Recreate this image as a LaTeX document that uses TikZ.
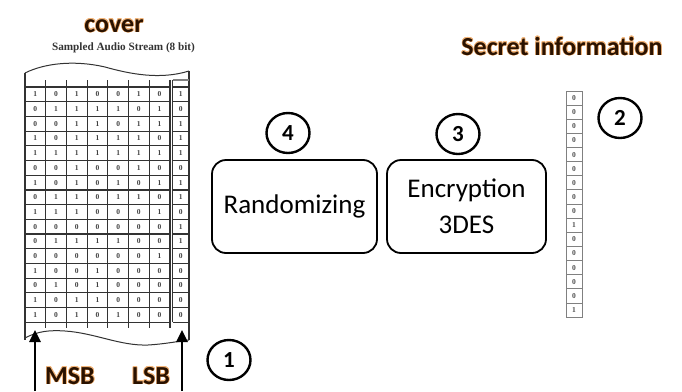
\documentclass[tikz,border=0pt]{standalone}
\usepackage{fontspec}
\usepackage{contour}
\setmainfont{Carlito}
\newfontfamily\bitserif{Liberation Serif}
\usetikzlibrary{shapes.geometric,arrows.meta}
\definecolor{titlebrown}{HTML}{2A1200}
\definecolor{glow}{HTML}{F2B57A}
\contourlength{0.6pt}
\contournumber{16}
\newcommand\titlefont{\fontsize{26}{28}\selectfont\bfseries}
\newcommand\boxfont{\fontsize{27}{36}\selectfont}
\newcommand\markfont{\fontsize{23}{26}\selectfont\bfseries}
\newcommand\bitfont{\bitserif\fontsize{7.5}{8}\selectfont\bfseries}
\newcommand\streamfont{\bitserif\fontsize{11.2}{12}\selectfont\bfseries}

\begin{document}
\begin{tikzpicture}[x=1pt,y=-1pt,
  gridline/.style={line width=1.2pt,draw=black!80},
  bitcell/.style={font=\bitfont,text=black!75,inner sep=0pt},
  secretcell/.style={draw=black!50,line width=0.9pt,minimum width=16pt,
    minimum height=14.13pt,inner sep=0pt,font=\bitfont,text=black!70},
  stagebox/.style={draw,line width=1.8pt,rounded corners=14pt,
    minimum height=93pt,align=center,font=\boxfont,inner sep=2pt},
  stepmark/.style={draw,ellipse,line width=2.4pt,minimum width=43pt,
    minimum height=40pt,inner sep=0pt,font=\markfont},
  bigarrow/.style={line width=2.6pt,-{Triangle[length=12pt,width=11pt]}},
  title/.style={font=\titlefont,text=titlebrown,inner sep=0pt,anchor=base}]

\useasboundingbox (0,0) rectangle (682,391);

% ---- titles ----
\node[title] (cover) at (114,32) {\contour{glow}{cover}};
\node[title] (secret) at (562,55) {\contour{glow}{Secret information}};
\node[font=\streamfont,text=black!80,inner sep=0pt] (stream) at (123.5,48)
  {Sampled Audio Stream (8 bit)};

% ---- audio sample strip: torn top and bottom edges ----
\draw[gridline,line width=1pt] (25,73) .. controls (45,63) and (75,60) .. (105,67)
  .. controls (130,74) and (160,80) .. (189,71);
\draw[gridline,line width=1pt] (25,338) .. controls (38,331) and (50,330) .. (65,331)
  .. controls (95,333) and (120,346) .. (148,345)
  .. controls (165,344) and (180,341) .. (189,340);
\draw[gridline] (25,73) -- (25,340);
\draw[gridline] (189,71) -- (189,340);

% row separators of the seven upper bits
\foreach \r in {0,...,16}
  \draw[gridline] (25,{87+14.7*\r}) -- (170,{87+14.7*\r});
% column separators
\foreach \c in {1,...,7}
  \draw[gridline] ({25+20.7*\c},80) -- ({25+20.7*\c},328);
% boxed least significant bit column
\draw[gridline] (172.5,80) -- (172.5,322.2);
\draw[gridline,draw=black!50] (172.5,80) -- (189,80);
\foreach \r in {0,...,16}
  \draw[gridline] (172.5,{87+14.7*\r}) -- (189,{87+14.7*\r});

% sample bits, MSB first
\foreach \bits [count=\r] in {
  {1,0,1,0,0,1,0,1},{0,1,1,1,1,0,1,0},{0,0,1,1,0,1,1,1},{1,0,1,1,1,1,0,1},
  {1,1,1,1,1,1,1,1},{0,0,1,0,0,1,0,0},{1,0,1,0,1,0,1,1},{0,1,1,0,1,1,0,1},
  {1,1,1,0,0,0,1,0},{0,0,0,0,0,0,0,1},{0,1,1,1,1,0,0,1},{0,0,0,0,0,0,1,0},
  {1,0,0,1,0,0,0,0},{0,1,0,1,0,0,0,0},{1,0,1,1,0,0,0,0},{1,0,1,0,1,0,0,0}}
  \foreach \b [count=\c] in \bits
    \node[bitcell] (bit-\r-\c) at ({\c<8 ? 25+20.7*(\c-0.5) : 180.8},{87+14.7*(\r-0.5)}) {\b};

% ---- MSB / LSB pointers ----
\coordinate (msb-foot) at (35,391);
\coordinate (msb-tip) at (35,330);
\coordinate (lsb-foot) at (182,391);
\coordinate (lsb-tip) at (182,330);
\draw[bigarrow] (msb-foot) -- (msb-tip);
\draw[bigarrow] (lsb-foot) -- (lsb-tip);
\node[title] (msb) at (70,384) {\contour{glow}{MSB}};
\node[title] (lsb) at (151,384) {\contour{glow}{LSB}};

% ---- processing stages ----
\node[stagebox,minimum width=165pt] (randomizing) at (294.5,206.5) {Randomizing};
\node[stagebox,minimum width=159pt] (encryption) at (466.5,206.5) {Encryption\\3DES};

% ---- secret bit stream ----
\foreach \b [count=\r] in {0,0,0,0,0,0,0,0,0,1,0,0,0,0,0,1}
  \node[secretcell] (secret-\r) at (574,{91+14.13*(\r-0.5)}) {\b};

% ---- step numbers ----
\node[stepmark] (step-one) at (229,360) {1};
\node[stepmark] (step-two) at (620,118) {2};
\node[stepmark] (step-three) at (458,134) {3};
\node[stepmark] (step-four) at (288,133) {4};
\end{tikzpicture}
\end{document}
